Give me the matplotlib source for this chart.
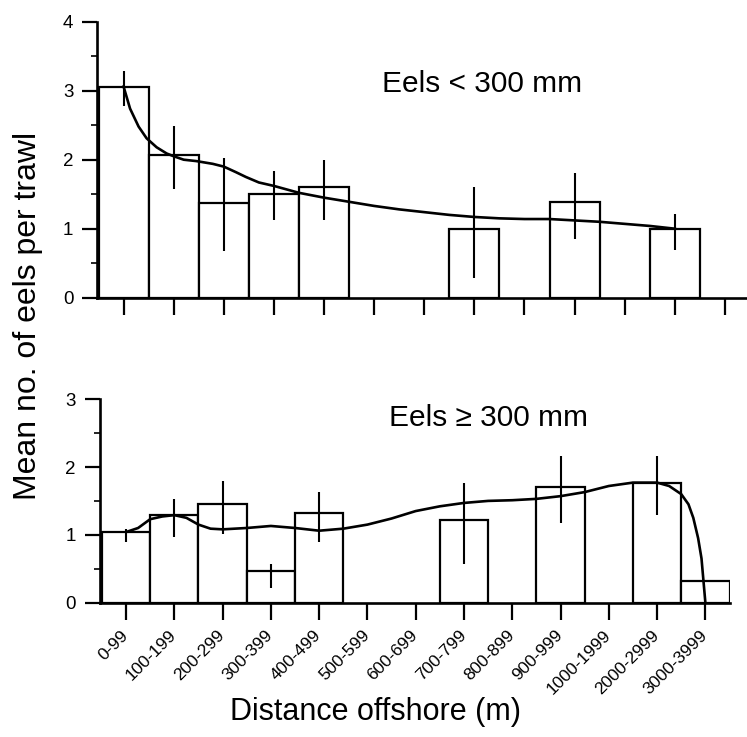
import numpy as np
import matplotlib
matplotlib.use("Agg")
import matplotlib.pyplot as plt
from matplotlib.ticker import MultipleLocator
from matplotlib.transforms import ScaledTranslation

plt.rcParams['font.family'] = ['Liberation Sans', 'DejaVu Sans']

categories = ['0-99', '100-199', '200-299', '300-399', '400-499', '500-599',
              '600-699', '700-799', '800-899', '900-999', '1000-1999',
              '2000-2999', '3000-3999']
nan = np.nan

# Eels < 300 mm
small_mean = [3.05, 2.07, 1.37, 1.50, 1.61, nan, nan, 0.99, nan, 1.38, nan, 0.99, nan]
small_lo = [2.78, 1.57, 0.68, 1.12, 1.13, nan, nan, 0.29, nan, 0.85, nan, 0.69, nan]
small_hi = [3.29, 2.49, 2.02, 1.84, 1.99, nan, nan, 1.60, nan, 1.81, nan, 1.21, nan]
small_curve_x = [0, 0.13, 0.3, 0.46, 0.66, 0.86, 1.0, 1.2, 1.45, 1.78, 2.0, 2.24, 2.44,
                 2.7, 3.0, 3.5, 4.0, 4.5, 5.0, 5.5, 6.0, 6.5, 7.0, 7.5, 8.0, 8.5,
                 9.0, 9.5, 10.0, 10.5, 11.0]
small_curve_y = [3.06, 2.74, 2.48, 2.31, 2.18, 2.09, 2.05, 2.00, 1.98, 1.94, 1.90, 1.82,
                 1.75, 1.67, 1.62, 1.52, 1.45, 1.39, 1.33, 1.28, 1.24, 1.20, 1.17, 1.15,
                 1.14, 1.14, 1.12, 1.10, 1.07, 1.04, 1.00]

# Eels >= 300 mm
large_mean = [1.04, 1.29, 1.45, 0.47, 1.32, nan, nan, 1.22, nan, 1.70, nan, 1.76, 0.32]
large_lo = [0.89, 0.96, 1.01, 0.22, 0.90, nan, nan, 0.57, nan, 1.18, nan, 1.29, nan]
large_hi = [1.09, 1.53, 1.80, 0.57, 1.63, nan, nan, 1.76, nan, 2.16, nan, 2.17, nan]
large_curve_x = [0, 0.25, 0.5, 0.75, 1.0, 1.25, 1.5, 1.75, 2.0, 2.5, 3.0, 3.5, 4.0, 4.5,
                 5.0, 5.5, 6.0, 6.5, 7.0, 7.5, 8.0, 8.5, 9.0, 9.5, 10.0, 10.5, 11.0,
                 11.25, 11.5, 11.65, 11.75, 11.85, 11.92, 12.0]
large_curve_y = [1.04, 1.10, 1.23, 1.27, 1.29, 1.25, 1.15, 1.09, 1.08, 1.10, 1.13, 1.10,
                 1.06, 1.09, 1.15, 1.24, 1.35, 1.42, 1.47, 1.50, 1.51, 1.53, 1.57, 1.63,
                 1.72, 1.77, 1.77, 1.72, 1.60, 1.45, 1.25, 0.95, 0.65, 0.0]

fig = plt.figure(figsize=(7.47, 7.37), dpi=100)
ax1 = fig.add_axes([97/747, 1-297.7/737, 650/747, 276/737])
ax2 = fig.add_axes([99.5/747, 1-602.5/737, 630/747, 203.2/737])

def draw(ax, mean, lo, hi, cx, cy, ymax, xlim, title, tx, ty):
    x = np.arange(len(categories))
    m = np.array(mean, dtype=float)
    ok = ~np.isnan(m)
    ax.bar(x[ok], m[ok], width=1.0, color='white', edgecolor='black', linewidth=1.6, zorder=2)
    lo_a = np.array(lo, dtype=float); hi_a = np.array(hi, dtype=float)
    ok2 = ~np.isnan(lo_a)
    ax.vlines(x[ok2], lo_a[ok2], hi_a[ok2], color='black', linewidth=1.5, zorder=3)
    ax.plot(cx, cy, color='black', linewidth=1.9, zorder=4, clip_on=False)
    ax.set_xlim(*xlim)
    ax.set_ylim(0, ymax)
    for s in ['top', 'right']:
        ax.spines[s].set_visible(False)
    for s in ['left', 'bottom']:
        ax.spines[s].set_linewidth(1.9)
    ax.set_xticks(x)
    ax.yaxis.set_major_locator(MultipleLocator(1))
    ax.yaxis.set_minor_locator(MultipleLocator(0.5))
    ax.tick_params(axis='y', which='major', length=11, width=1.6, labelsize=13.5, pad=6)
    ax.tick_params(axis='y', which='minor', length=4, width=1.2)
    ax.tick_params(axis='x', which='major', length=12, width=1.6, direction='out')
    ax.text(tx, ty, title, transform=fig.transFigure, fontsize=21.5, ha='left', va='center')

draw(ax1, small_mean, small_lo, small_hi, small_curve_x, small_curve_y, 4, (-0.53, 12.44),
     'Eels < 300 mm', 382/747, 1-84/737)
ax1.set_xticklabels([])

draw(ax2, large_mean, large_lo, large_hi, large_curve_x, large_curve_y, 3, (-0.55, 12.5),
     'Eels \u2265 300 mm', 389/747, 1-418/737)
ax2.set_xticklabels(categories, rotation=45, ha='right', va='top', fontsize=12.5)
ax2.tick_params(axis='x', pad=6)
shift = ScaledTranslation(5/100, 0, fig.dpi_scale_trans)
for lab in ax2.get_xticklabels():
    lab.set_transform(lab.get_transform() + shift)

fig.text(375/747, 1-712/737, 'Distance offshore (m)', fontsize=22, ha='center', va='center')
fig.text(28/747, 1-316/737, 'Mean no. of eels per trawl', fontsize=23, rotation=90,
         ha='center', va='center')

fig.savefig('out.png', dpi=100)
